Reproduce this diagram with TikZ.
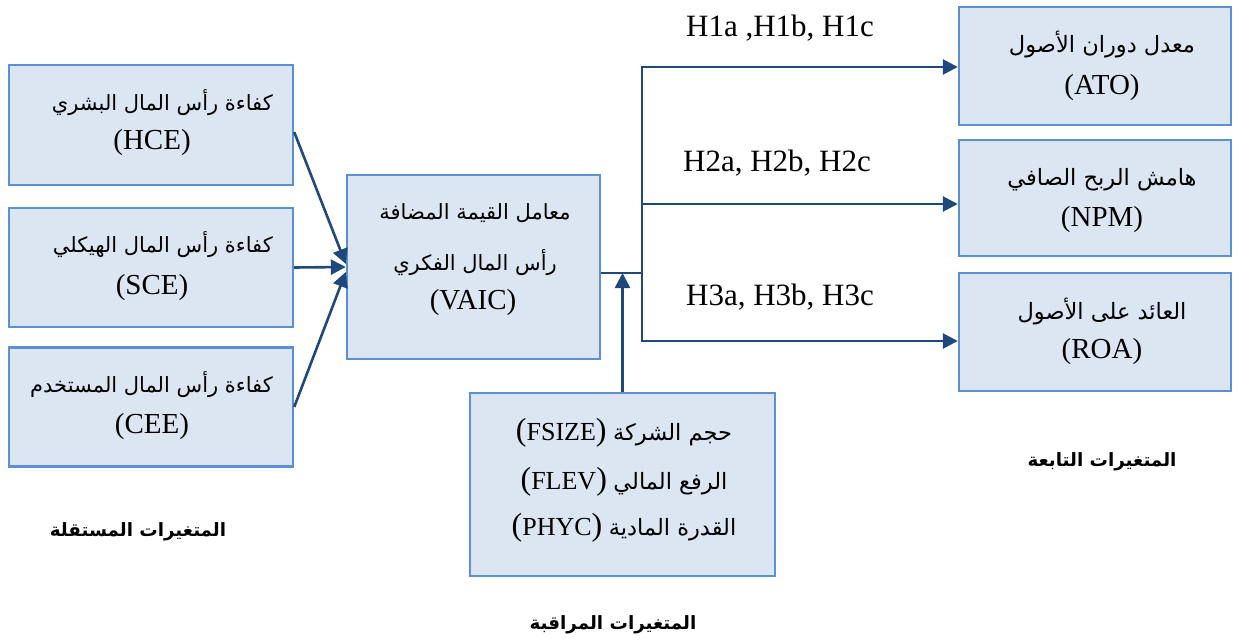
\documentclass[tikz,border=0pt]{standalone}
\usepackage{fontspec}
\setmainfont{Liberation Serif}
\newfontfamily\arabicfont[Script=Arabic]{DejaVu Sans}
\TeXXeTstate=1
\usetikzlibrary{arrows.meta,calc}
\definecolor{boxfill}{HTML}{DCE6F2}
\definecolor{boxline}{HTML}{5B8FD6}
\definecolor{arrowc}{HTML}{1F497D}
\tikzset{
  varbox/.style={draw=boxline, fill=boxfill, line width=2.4pt, inner sep=0pt, anchor=center},
  conn/.style={draw=arrowc, line width=2.6pt},
  arr/.style={conn, -{Triangle[length=15pt,width=15pt]}},
  lat/.style={inner sep=0pt, font=\fontsize{29}{34}\selectfont},
  latc/.style={inner sep=0pt, font=\fontsize{26}{32}\selectfont},
  hlab/.style={inner sep=0pt, font=\fontsize{31}{36}\selectfont},
  ar/.style={inner sep=0pt, font=\arabicfont\fontsize{21}{26}\selectfont},
  arr2/.style={inner sep=0pt, font=\arabicfont\fontsize{22.5}{27}\selectfont},
  arb/.style={inner sep=0pt, font=\arabicfont\bfseries\fontsize{18.3}{24}\selectfont},
}
\newcommand{\ctlar}{\arabicfont\fontsize{22.5}{27}\selectfont}
\newcommand{\bp}[1]{{\fontsize{32}{36}\selectfont #1}}
\begin{document}
\begin{tikzpicture}[x=1pt,y=-1pt]
\useasboundingbox (0,0) rectangle (1238,644);
% boxes
\node[varbox, minimum width=284pt, minimum height=120pt] (hce) at (151,125) {};
\node[varbox, minimum width=284pt, minimum height=119pt] (sce) at (151,267.5) {};
\node[varbox, minimum width=284pt, minimum height=119pt] (cee) at (151,407) {};
\node[varbox, minimum width=253pt, minimum height=184pt] (vaic) at (473.5,267) {};
\node[varbox, minimum width=305pt, minimum height=183pt] (ctrl) at (622.5,484.5) {};
\node[varbox, minimum width=272pt, minimum height=118pt] (ato) at (1095,66) {};
\node[varbox, minimum width=272pt, minimum height=116pt] (npm) at (1095,198) {};
\node[varbox, minimum width=272pt, minimum height=118pt] (roa) at (1095,332) {};
% left box texts
\node[ar, anchor=east] (thce) at (273,103) {\beginR كفاءة رأس المال البشري\endR};
\node[lat] (ahce) at (152,143) {(HCE)};
\node[ar, anchor=east] (tsce) at (273,245) {\beginR كفاءة رأس المال الهيكلي\endR};
\node[lat] (asce) at (152,288) {(SCE)};
\node[ar, anchor=east] (tcee) at (273,385) {\beginR كفاءة رأس المال المستخدم\endR};
\node[lat] (acee) at (152,427) {(CEE)};
% vaic texts
\node[ar] (tv1) at (475,213) {\beginR معامل القيمة المضافة\endR};
\node[ar] (tv2) at (475,263) {\beginR رأس المال الفكري\endR};
\node[lat] (tv3) at (473,303) {(VAIC)};
% control texts
\node[latc] (tc1) at (624,433) {\bp{(}FSIZE\bp{)} {\ctlar\beginR حجم الشركة\endR}};
\node[latc] (tc2) at (624,482) {\bp{(}FLEV\bp{)} {\ctlar\beginR الرفع المالي\endR}};
\node[latc] (tc3) at (624,528) {\bp{(}PHYC\bp{)} {\ctlar\beginR القدرة المادية\endR}};
% right texts
\node[arr2] (tato) at (1102,45) {\beginR معدل دوران الأصول\endR};
\node[lat] (aato) at (1102,88) {(ATO)};
\node[arr2] (tnpm) at (1102,180) {\beginR هامش الربح الصافي\endR};
\node[lat] (anpm) at (1102,220) {(NPM)};
\node[arr2] (troa) at (1102,312) {\beginR العائد على الأصول\endR};
\node[lat] (aroa) at (1102,352) {(ROA)};
% hypothesis labels
\node[hlab] (h1) at (780,28) {H1a ,H1b, H1c};
\node[hlab] (h2) at (777,163) {H2a, H2b, H2c};
\node[hlab] (h3) at (780,297) {H3a, H3b, H3c};
% group labels
\node[arb] (lind) at (138,532) {\beginR المتغيرات المستقلة\endR};
\node[arb] (ldep) at (1102,462) {\beginR المتغيرات التابعة\endR};
\node[arb] (lctl) at (613,625) {\beginR المتغيرات المراقبة\endR};
% connectors
\coordinate (j) at (642,273);
\coordinate (b1) at (642,67);
\coordinate (b2) at (642,204);
\coordinate (b3) at (642,341);
\coordinate (s1) at ($(hce.east)+(0,7)$);
\coordinate (t1) at ($(vaic.west)+(0,-3)$);
\coordinate (t3) at ($(vaic.west)+(0,5)$);
\draw[arr] (s1) -- (t1);
\draw[arr] (sce.east) -- (vaic.west);
\draw[arr] (cee.east) -- (t3);
\draw[conn] ($(vaic.east)+(0,6)$) -- (j);
\draw[conn, line cap=rect] (b1) -- (b3);
\draw[arr] (b1) -- (ato.west |- b1);
\draw[arr] (b2) -- (npm.west |- b2);
\draw[arr] (b3) -- (roa.west |- b3);
\draw[arr] (ctrl.north) -- (ctrl.north |- j);
\end{tikzpicture}
\end{document}
